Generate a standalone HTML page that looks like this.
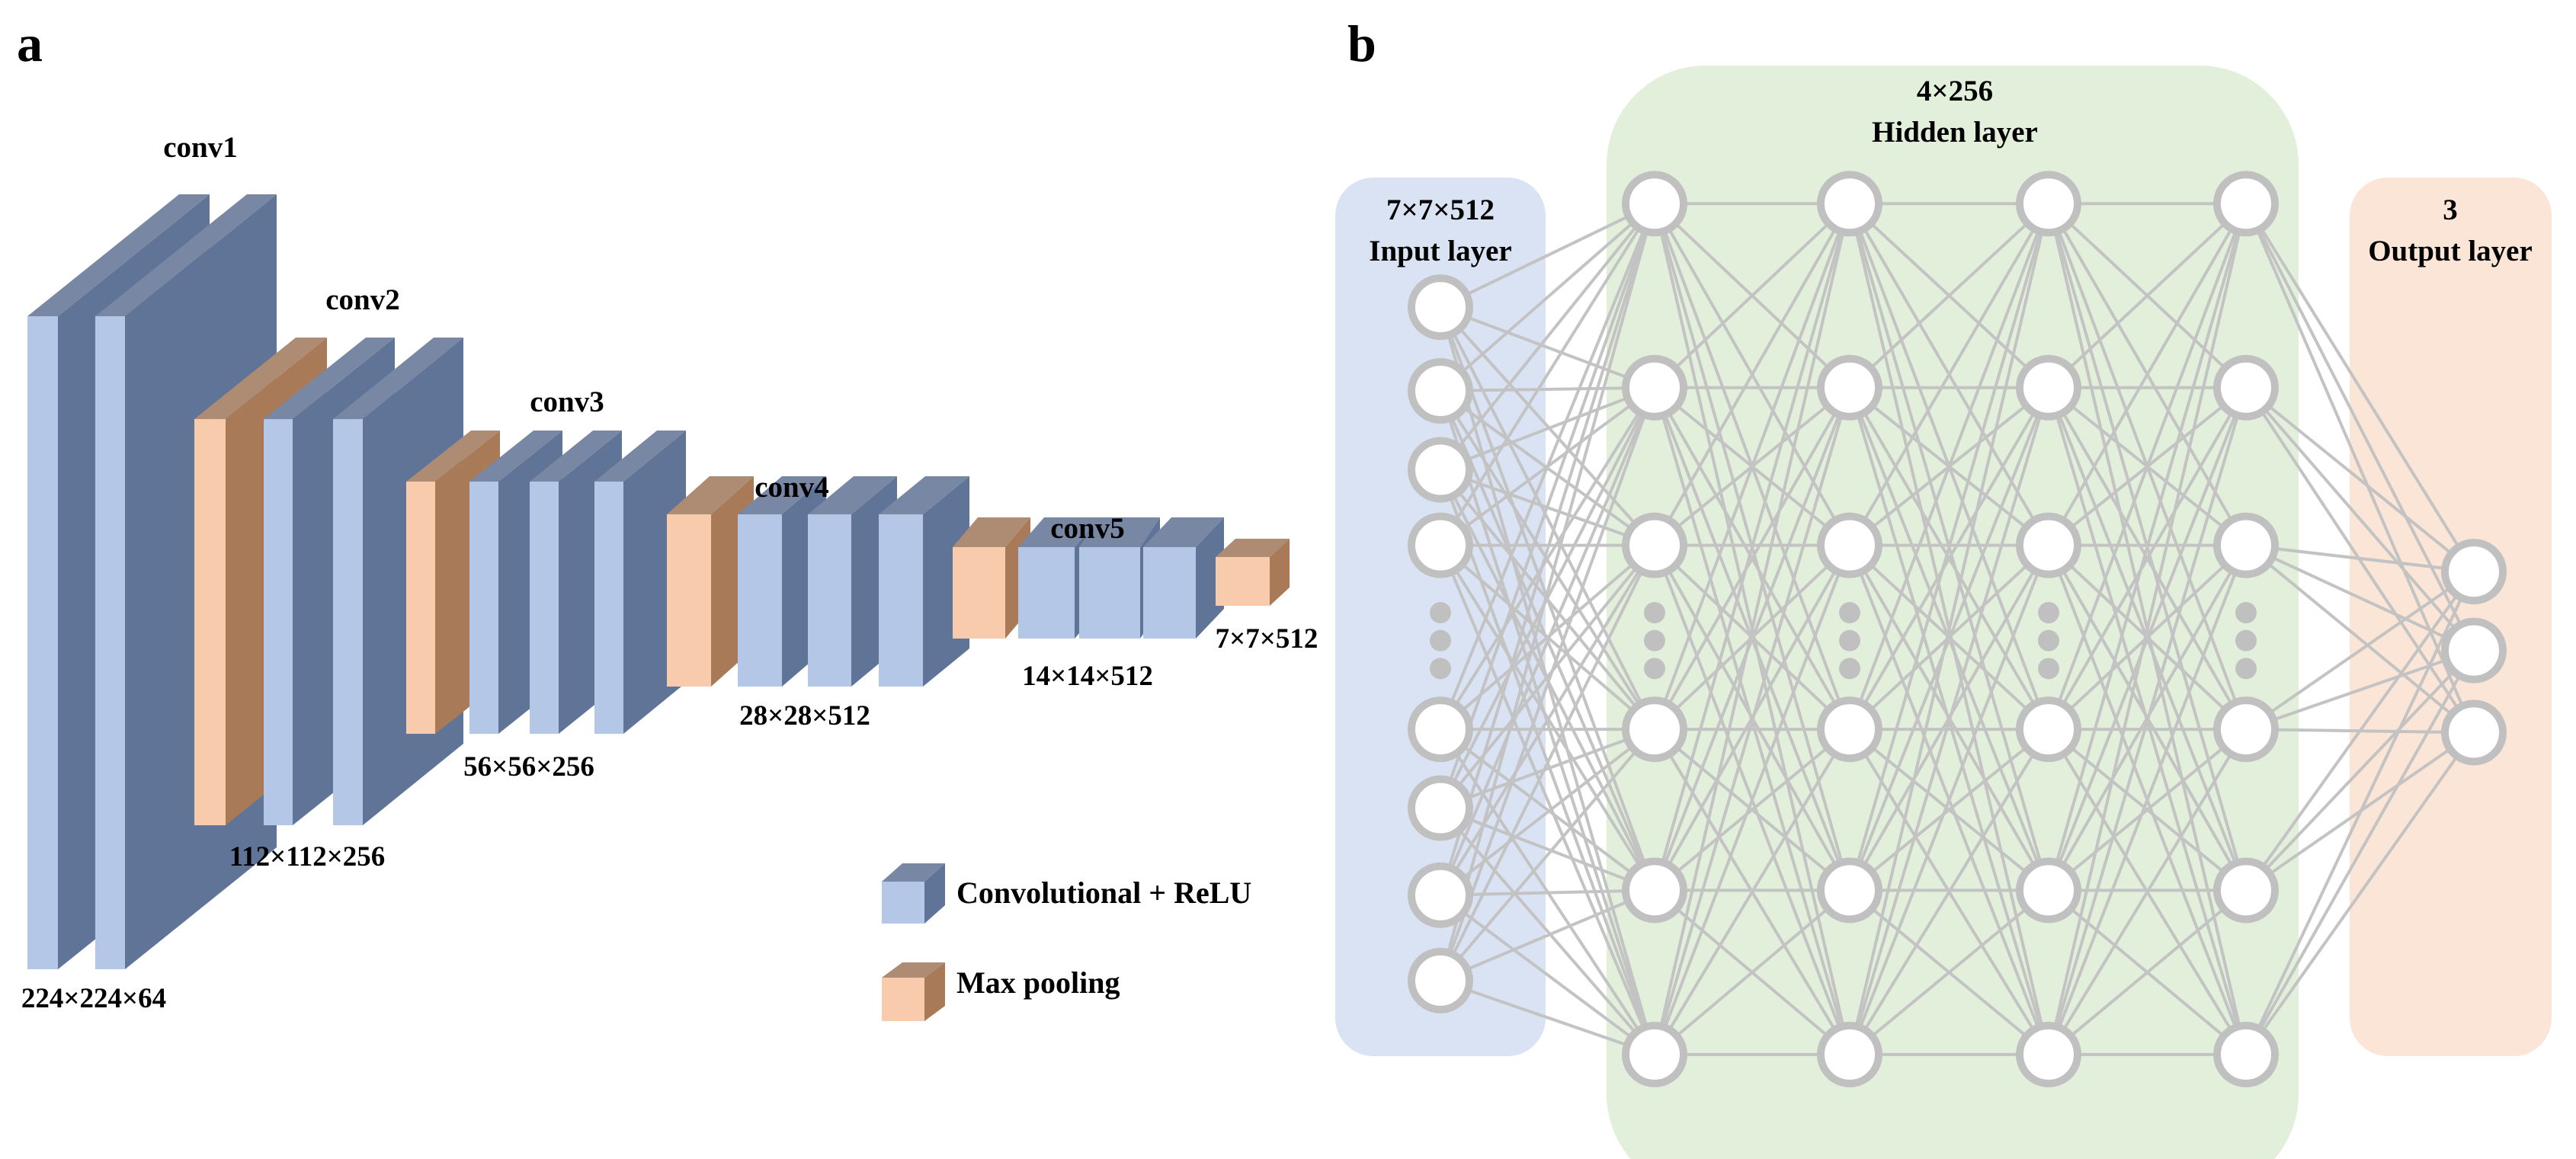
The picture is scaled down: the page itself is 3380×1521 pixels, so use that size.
<!DOCTYPE html>
<html><head><meta charset="utf-8"><style>
html,body{margin:0;padding:0;background:#fff;}
svg{display:block;}
text{font-family:"Liberation Serif",serif;font-weight:bold;fill:#000;}
</style></head><body>
<svg id="s" width="3380" height="1521" viewBox="0 0 3380 1521" xmlns="http://www.w3.org/2000/svg">
<g id="blocks"></g>
<g id="nnbg">
<rect x="1752" y="233" width="276" height="1153" rx="50" fill="#dae3f3"/>
<rect x="2108" y="86" width="908" height="1480" rx="130" fill="#e2efda"/>
<rect x="3083" y="233" width="265" height="1153" rx="50" fill="#fbe5d6"/>
</g>
<g id="lines" stroke="#c3c3c3" stroke-width="4"></g>
<g id="nodes"></g>
<text x="22" y="80" font-size="68">a</text>
<text x="1768" y="80" font-size="68">b</text>
<g font-size="39" text-anchor="middle">
<text x="263" y="206">conv1</text>
<text x="476" y="406">conv2</text>
<text x="744" y="540">conv3</text>
<text x="1039" y="652">conv4</text>
<text x="1427" y="706">conv5</text>
</g>
<g font-size="37" text-anchor="middle">
<text x="123" y="1322">224×224×64</text>
<text x="403" y="1136">112×112×256</text>
<text x="694" y="1018">56×56×256</text>
<text x="1056" y="951">28×28×512</text>
<text x="1427" y="899">14×14×512</text>
<text x="1662" y="850">7×7×512</text>
</g>
<g font-size="40">
<text x="1255" y="1185">Convolutional + ReLU</text>
<text x="1255" y="1303">Max pooling</text>
</g>
<g font-size="39" text-anchor="middle">
<text x="1890" y="288">7×7×512</text>
<text x="1890" y="342">Input layer</text>
<text x="2565" y="132">4×256</text>
<text x="2565" y="186">Hidden layer</text>
<text x="3215" y="288">3</text>
<text x="3215" y="342">Output layer</text>
</g>
</svg>
<script>
var NS="http://www.w3.org/2000/svg";
function el(p,t,a){var e=document.createElementNS(NS,t);for(var k in a)e.setAttribute(k,a[k]);p.appendChild(e);return e;}
var B=document.getElementById("blocks");
var C={c:["#b4c7e7","#5f7497","#7888a4"],p:["#f8cbad","#a97a58","#ae8b73"]};
function blk(x1,x2,y1,y2,br,top,t){var dx=br-x2,dy=top-y1,c=C[t];
 el(B,"polygon",{points:[x2,y1,x2+dx,y1+dy,x2+dx,y2+dy,x2,y2].join(","),fill:c[1]});
 el(B,"polygon",{points:[x1,y1,x1+dx,y1+dy,x2+dx,y1+dy,x2,y1].join(","),fill:c[2]});
 el(B,"rect",{x:x1,y:y1,width:x2-x1,height:y2-y1,fill:c[0]});}
blk(36,76,415,1272,275,255,"c");
blk(125,164,415,1272,363,255,"c");
blk(255,296,550,1083,429,443,"p");
blk(346,384,550,1083,518,443,"c");
blk(437,476,550,1083,608,443,"c");
blk(533,571,632,963,656,565,"p");
blk(616,654,632,963,738,565,"c");
blk(695,733,632,963,816,565,"c");
blk(780,818,632,963,900,565,"c");
blk(875,933,675,901,989,625,"p");
blk(968,1026,675,901,1084,625,"c");
blk(1060,1117,675,901,1177,625,"c");
blk(1153,1211,675,901,1272,625,"c");
blk(1250,1319,718,838,1352,679,"p");
blk(1336,1410,718,838,1444,679,"c");
blk(1416,1496,718,838,1522,679,"c");
blk(1500,1569,718,838,1606,679,"c");
blk(1595,1666,731,795,1692,707,"p");
blk(1157,1213,1157,1212,1240,1133,"c");
blk(1157,1213,1283,1340,1240,1263,"p");
var L=document.getElementById("lines"),N=document.getElementById("nodes");
var inp=[187,238,286,332,444,492,545,597].map(function(v){return v*2.1556;});
var hid=[124,236,332,444,542,642].map(function(v){return v*2.1556;});
var out=[348,396,446].map(function(v){return v*2.1556;});
var cols=[[1890,inp],[2171,hid],[2427,hid],[2688,hid],[2947,hid],[3246,out]];
for(var i=0;i<cols.length-1;i++){var a=cols[i],b=cols[i+1];
 a[1].forEach(function(ya){b[1].forEach(function(yb){el(L,"line",{x1:a[0],y1:ya,x2:b[0],y2:yb});});});}
cols.forEach(function(c){c[1].forEach(function(y){el(N,"circle",{cx:c[0],cy:y,r:38,fill:"#fff",stroke:"#c0c0c0","stroke-width":10});});});
[1890,2171,2427,2688,2947].forEach(function(x){
 [373,390,407].forEach(function(v){el(N,"circle",{cx:x,cy:v*2.1556,r:14,fill:"#c0c0c0"});});});
</script>
</body></html>
